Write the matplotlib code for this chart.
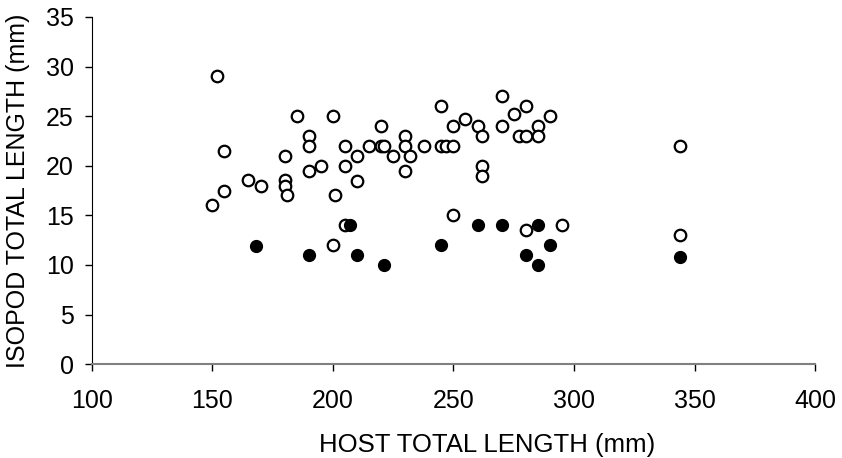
import matplotlib
matplotlib.use("Agg")
import matplotlib.pyplot as plt

# open circles
open_x = [152, 150, 155, 155, 165, 170, 180, 180, 180, 181, 185, 190, 190, 190,
          195, 200, 201, 200, 205, 205, 205, 210, 210, 215, 220, 220, 221, 225,
          230, 230, 230, 232, 238, 245, 245, 247, 250, 250, 250, 255, 260, 262,
          262, 262, 270, 270, 275, 277, 280, 280, 280, 285, 285, 290, 295, 344, 344]
open_y = [29, 16, 21.5, 17.5, 18.6, 18, 21, 18.6, 18, 17, 25, 23, 22, 19.5,
          20, 25, 17, 12, 22, 20, 14, 21, 18.5, 22, 24, 22, 22, 21,
          23, 22, 19.5, 21, 22, 26, 22, 22, 22, 24, 15, 24.7, 24, 23,
          20, 19, 27, 24, 25.2, 23, 23, 26, 13.5, 24, 23, 25, 14, 22, 13]

# filled circles
fill_x = [168, 190, 207, 210, 221, 245, 260, 270, 280, 285, 285, 290, 344]
fill_y = [11.9, 11, 14, 11, 10, 12, 14, 14, 11, 14, 10, 12, 10.8]

plt.rcParams['font.family'] = ['Liberation Sans', 'DejaVu Sans']

fig = plt.figure(figsize=(8.42, 4.58), dpi=100)
ax = fig.add_axes([0.109, 0.205, 0.859, 0.758])

ax.plot(open_x, open_y, 'o', ls='none', ms=8.3, mfc='white', mec='black', mew=1.6)
ax.plot(fill_x, fill_y, 'o', ls='none', ms=8.5, mfc='black', mec='black', mew=1)

ax.set_xlim(100, 400)
ax.set_ylim(0, 35)
ax.set_xticks(range(100, 401, 50))
ax.set_yticks(range(0, 36, 5))

ax.spines['top'].set_visible(False)
ax.spines['right'].set_visible(False)
ax.spines['left'].set_color('black')
ax.spines['bottom'].set_color('#808080')
ax.spines['bottom'].set_linewidth(1.5)

ax.tick_params(axis='both', direction='out', length=5, width=1, colors='black',
               labelsize=18)
ax.tick_params(axis='x', pad=13)
ax.tick_params(axis='y', pad=8)

ax.set_xlabel('HOST TOTAL LENGTH (mm)', fontsize=18.5, va='center')
ax.xaxis.set_label_coords(0.546, -0.233)
ax.set_ylabel('ISOPOD TOTAL LENGTH (mm)', fontsize=18, va='center')
ax.yaxis.set_label_coords(-0.102, 0.5)

fig.savefig('out.png', dpi=100)
